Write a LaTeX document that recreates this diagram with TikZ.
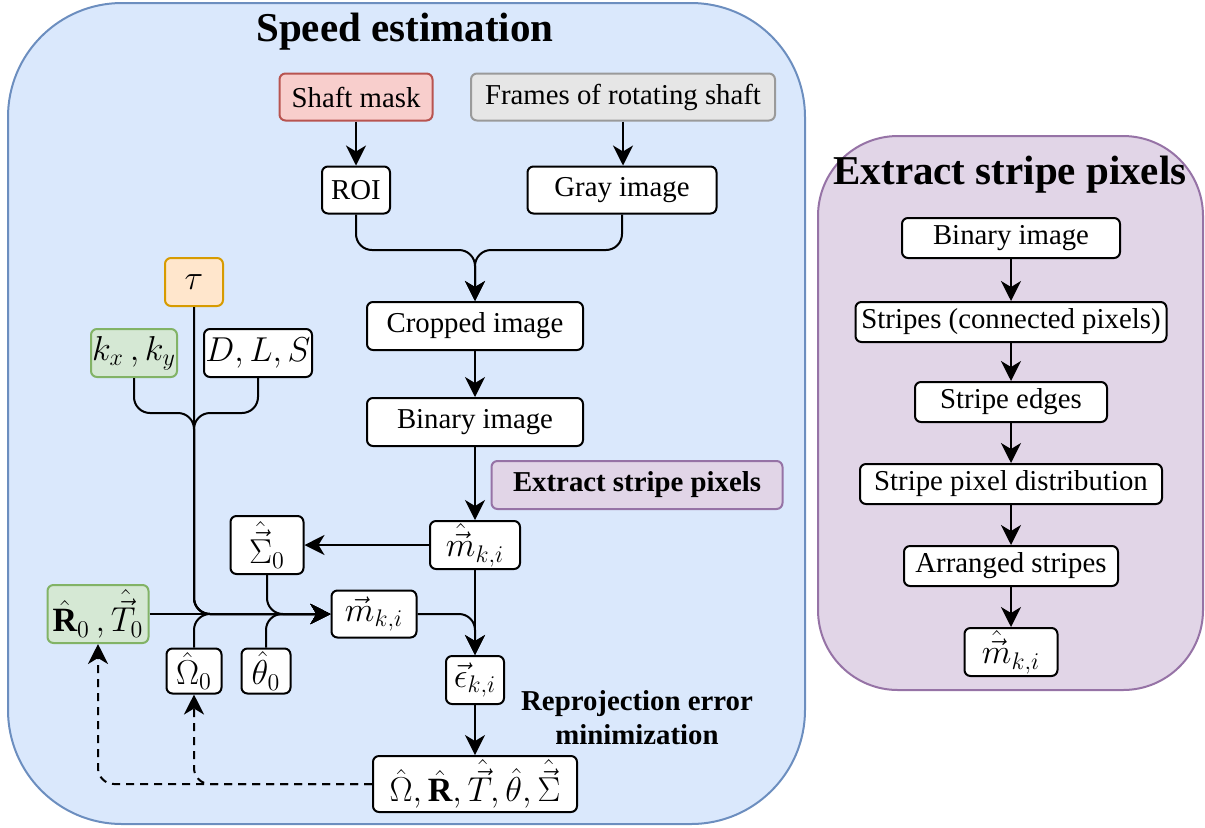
\documentclass[tikz,border=0pt]{standalone}
\usepackage{amsmath}
\usepackage{fontspec}
\setmainfont{Liberation Serif}
\usetikzlibrary{arrows.meta}
\definecolor{speedfill}{HTML}{DAE8FC}\definecolor{speedline}{HTML}{6C8EBF}
\definecolor{stripefill}{HTML}{E1D5E7}\definecolor{stripeline}{HTML}{9673A6}
\definecolor{maskfill}{HTML}{F8CECC}\definecolor{maskline}{HTML}{B85450}
\definecolor{framefill}{HTML}{E6E6E6}\definecolor{frameline}{HTML}{9A9A9A}
\definecolor{taufill}{HTML}{FFE6CC}\definecolor{tauline}{HTML}{D79B00}
\definecolor{initfill}{HTML}{D5E8D4}\definecolor{initline}{HTML}{82B366}

\begin{document}
\begin{tikzpicture}[x=0.5pt,y=-0.5pt,>={Stealth[length=10pt,width=10pt,inset=3pt]},
  box/.style={draw,line width=1pt,rounded corners=3pt,fill=white,align=center,
    inner sep=0pt,font=\fontsize{14.4}{17}\selectfont},
  mbox/.style={box,font=\fontsize{17}{20}\selectfont},
  wh/.style 2 args={minimum width=#1*0.5pt,minimum height=#2*0.5pt},
  wire/.style={line width=1pt,rounded corners=8pt},
  head/.style={font=\bfseries\fontsize{20.5}{24}\selectfont}]
\useasboundingbox (0,0) rectangle (1205,827);
% panels
\draw[fill=speedfill,draw=speedline,line width=1pt,rounded corners=57pt] (8,3) rectangle (805,824);
\draw[fill=stripefill,draw=stripeline,line width=1pt,rounded corners=40pt] (818,136) rectangle (1203,690);
\node[head] (speed) at (405,32) {Speed estimation};
\node[head] (stripe) at (1010,175) {Extract stripe pixels};

% image path
\node[box,wh={153}{47},fill=maskfill,draw=maskline] (mask) at (356,97) {Shaft mask};
\node[box,wh={304}{47},fill=framefill,draw=frameline] (frames) at (623,97) {Frames of rotating shaft};
\node[box,wh={68}{47}] (roi) at (356,190) {ROI};
\node[box,wh={189}{47}] (gray) at (622,190) {Gray image};
\node[box,wh={216}{48}] (crop) at (475,326) {Cropped image};
\node[box,wh={216}{48}] (bin) at (475,422) {Binary image};
\node[box,wh={291}{48},fill=stripefill,draw=stripeline,font=\bfseries\fontsize{14.4}{17}\selectfont] (extr) at (637,485) {Extract stripe pixels};
\node[mbox,wh={90}{48}] (mh) at (475,545) {$\hat{\vec{m}}_{k,i}$};
\node[mbox,wh={73}{58}] (sig) at (267,545) {$\hat{\vec{\Sigma}}_0$};
\node[mbox,wh={85}{47}] (mv) at (374,614) {$\vec{m}_{k,i}$};
\node[mbox,wh={101}{58},fill=initfill,draw=initline] (rt) at (98,614) {$\hat{\mathbf{R}}_0\,,\hat{\vec{T}}_0$};
\node[mbox,wh={55}{45}] (om) at (194,671) {$\hat{\Omega}_0$};
\node[mbox,wh={49}{45}] (th) at (266,671) {$\hat{\theta}_0$};
\node[mbox,wh={58}{48}] (eps) at (475,680) {$\vec{\epsilon}_{k,i}$};
\node[mbox,wh={204}{56}] (fin) at (475,784) {$\hat{\Omega},\hat{\mathbf{R}},\hat{\vec{T}},\hat{\theta},\hat{\vec{\Sigma}}$};
\node[mbox,wh={58}{48},fill=taufill,draw=tauline] (tau) at (194,282) {$\tau$};
\node[mbox,wh={86}{48},fill=initfill,draw=initline] (kxy) at (134,353) {$k_x\,,k_y$};
\node[mbox,wh={108}{48}] (dls) at (258,353) {$D,L,S$};
\node[align=center,font=\bfseries\fontsize{14.4}{17}\selectfont] (reproj) at (637,718) {Reprojection error\\minimization};

\coordinate (merge) at (475,250);
\coordinate (join) at (194,413);

\draw[line width=1pt,->] (mask) -- (roi);
\draw[line width=1pt,->] (frames.south) -- (gray.north -| frames.south);
\draw[wire,->] (roi.south) |- (merge) -- (crop.north);
\draw[wire,->] (gray.south) |- (merge) -- (crop.north);
\draw[line width=1pt,->] (crop) -- (bin);
\draw[line width=1pt,->] (bin) -- (mh);
\draw[line width=1pt,->] (mh) -- (sig);
\draw[line width=1pt,->] (mh) -- (eps);
\draw[wire,->] (mv.east) -| (eps.north);
\draw[line width=1pt,->] (eps) -- (fin);

% inputs of the projection
\draw[wire,->] (kxy.south) |- (join) |- (mv.west);
\draw[wire,->] (dls.south) |- (join) |- (mv.west);
\draw[wire,->] (tau.south) |- (mv.west);
\draw[line width=1pt,->] (rt.east) -- (mv.west);
\draw[wire,->] (sig.south) |- (mv.west);
\draw[wire,->] (om.north) |- (mv.west);
\draw[wire,->] (th.north) |- (mv.west);

% feedback
\draw[wire,dashed,dash pattern=on 4pt off 3pt,->] (fin.west) -| (rt.south);
\draw[wire,dashed,dash pattern=on 4pt off 3pt,->] (fin.west) -| (om.south);

% stripe extraction
\node[box,wh={218}{40}] (sbin) at (1011,238) {Binary image};
\node[box,wh={311}{40}] (scon) at (1011,322) {Stripes (connected pixels)};
\node[box,wh={192}{40}] (sedge) at (1011,402) {Stripe edges};
\node[box,wh={302}{40}] (sdist) at (1011,484) {Stripe pixel distribution};
\node[box,wh={214}{40}] (sarr) at (1011,566) {Arranged stripes};
\node[mbox,wh={93}{48}] (sm) at (1011,652) {$\hat{\vec{m}}_{k,i}$};
\foreach \a/\b in {sbin/scon,scon/sedge,sedge/sdist,sdist/sarr,sarr/sm}
  \draw[line width=1pt,->] (\a) -- (\b);
\end{tikzpicture}
\end{document}
